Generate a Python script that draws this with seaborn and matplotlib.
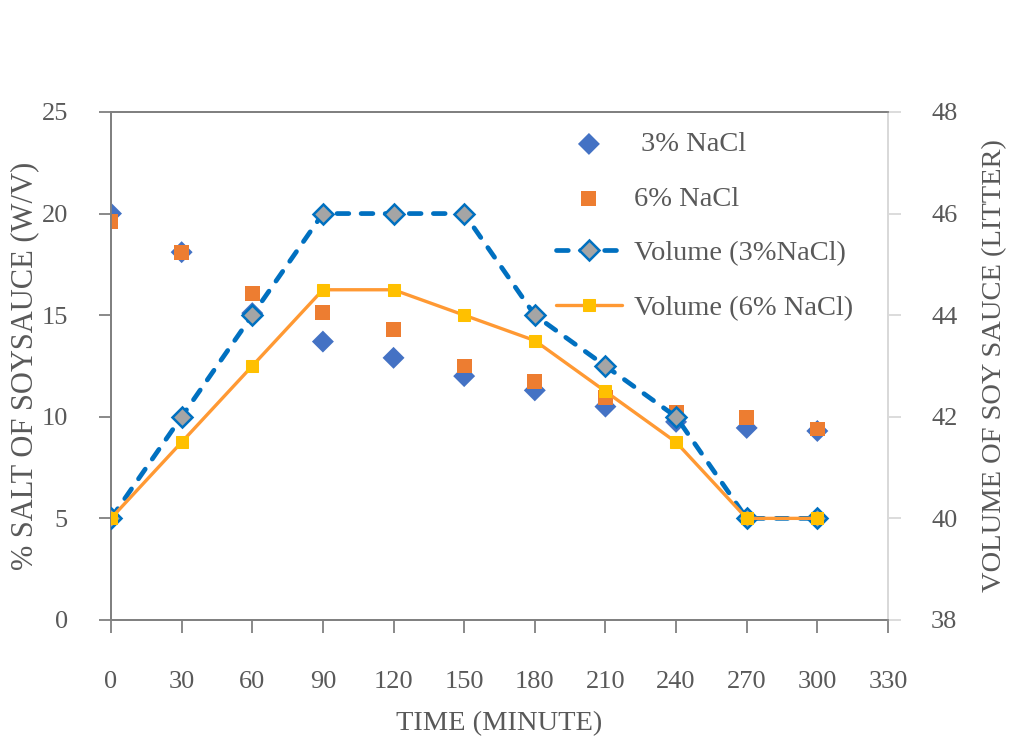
import matplotlib
matplotlib.use("Agg")
import matplotlib.pyplot as plt
import numpy as np
import pandas as pd
import seaborn as sns

# data
time_min = [0, 30, 60, 90, 120, 150, 180, 210, 240, 270, 300]
salt_3pct = [20.0, 18.1, 15.1, 13.7, 12.9, 12.0, 11.3, 10.5, 9.75, 9.45, 9.3]
salt_6pct = [19.6, 18.1, 16.05, 15.15, 14.3, 12.5, 11.75, 10.95, 10.2, 9.95, 9.4]
vol_3pct = [40.0, 42.0, 44.0, 46.0, 46.0, 46.0, 44.0, 43.0, 42.0, 40.0, 40.0]
vol_6pct = [40.0, 41.5, 43.0, 44.5, 44.5, 44.0, 43.5, 42.5, 41.5, 40.0, 40.0]
x_ticks = list(range(0, 331, 30))
left_ticks = [0, 5, 10, 15, 20, 25]
right_ticks = [38, 40, 42, 44, 46, 48]

df = pd.DataFrame({"time": time_min, "s3": salt_3pct, "s6": salt_6pct,
                   "v3": vol_3pct, "v6": vol_6pct})

sns.set_style("white")
plt.rcParams["font.family"] = ["Liberation Serif", "DejaVu Serif"]
text_col = "#595959"
fs = 19
lab_fs = 20.5

fig = plt.figure(figsize=(10.11, 7.40), dpi=100)
ax = fig.add_axes([0.1098, 0.1622, 0.7685, 0.6865])
ax2 = ax.twinx()

sns.scatterplot(data=df, x="time", y="s3", ax=ax, marker="D", s=125,
                color="#4472C4", edgecolor="none", label=" 3% NaCl", zorder=3)
sns.scatterplot(data=df, x="time", y="s6", ax=ax, marker="s", s=115,
                color="#ED7D31", edgecolor="none", label="6% NaCl", zorder=3)

sns.lineplot(data=df, x="time", y="v3", ax=ax2, color="#0070C0", lw=3.4,
             marker="D", markersize=10, markerfacecolor="#A5A5A5",
             markeredgecolor="#0070C0", markeredgewidth=1.8,
             label="Volume (3%NaCl)", zorder=4)
l3 = ax2.lines[-1]
l3.set_dashes((2.5, 2.6))
l3.set_dash_capstyle("round")
sns.lineplot(data=df, x="time", y="v6", ax=ax2, color="#FF9933", lw=2.4,
             marker="s", markersize=8.5, markerfacecolor="#FFC000",
             markeredgecolor="#FFC000", label="Volume (6% NaCl)", zorder=5)

ax.set_xlim(0, 330)
ax.set_ylim(0, 25)
ax2.set_ylim(38, 48)
ax.set_xticks(x_ticks)
ax.set_yticks(left_ticks)
ax2.set_yticks(right_ticks)

ax.set_xlabel("TIME (MINUTE)", fontsize=lab_fs, color=text_col, labelpad=13)
ax.set_ylabel("% SALT OF SOYSAUCE (W/V)", fontsize=lab_fs + 1.5, color=text_col, labelpad=2)
ax2.set_ylabel("VOLUME OF SOY SAUCE (LITTER)", fontsize=lab_fs, color=text_col, labelpad=18)

ax.tick_params(axis="x", direction="out", length=9, width=1.3, color="#808080",
               labelsize=fs, labelcolor=text_col, pad=28, bottom=True)
ax.tick_params(axis="y", direction="out", length=9, width=1.3, color="#808080",
               labelsize=fs, labelcolor=text_col, pad=22, left=True)
ax2.tick_params(axis="y", direction="out", length=9, width=1.3, color="#D9D9D9",
                labelsize=fs, labelcolor=text_col, pad=22, right=True)

for a in (ax, ax2):
    for side in ("left", "bottom", "top"):
        a.spines[side].set_color("#808080")
        a.spines[side].set_linewidth(1.3)
    a.spines["right"].set_color("#D9D9D9")
    a.spines["right"].set_linewidth(1.3)

for a in (ax, ax2):
    if a.get_legend() is not None:
        a.get_legend().remove()
h1, lab1 = ax.get_legend_handles_labels()
h2, lab2 = ax2.get_legend_handles_labels()
leg = ax2.legend(h1 + h2, lab1 + lab2, loc="upper left",
                 bbox_to_anchor=(0.54, 1.012), frameon=False, fontsize=lab_fs,
                 handlelength=2.3, handletextpad=0.45, labelspacing=1.0)
for t in leg.get_texts():
    t.set_color(text_col)

fig.savefig("out.png", dpi=100)
